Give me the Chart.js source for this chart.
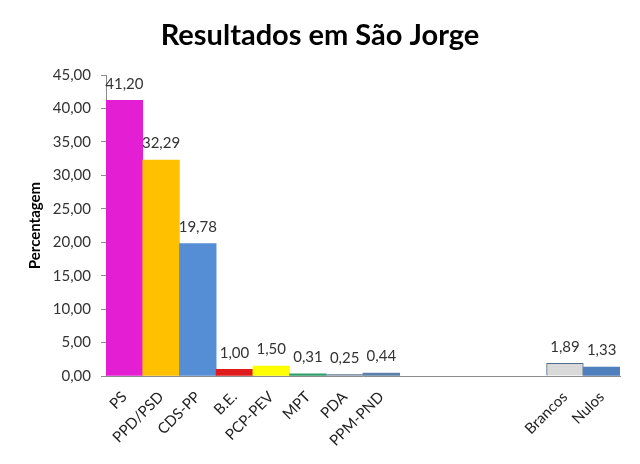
<!DOCTYPE html>
<html>
<head>
<meta charset="utf-8">
<script src="https://cdn.jsdelivr.net/npm/chart.js@4.4.0/dist/chart.umd.min.js"></script>
<style>
  html, body { margin: 0; padding: 0; background: #fff; }
  #wrap { width: 640px; height: 464px; }
</style>
</head>
<body>
<div id="wrap"><canvas id="resultChart"></canvas></div>
<script>
const categories = ['PS', 'PPD/PSD', 'CDS-PP', 'B.E.', 'PCP-PEV', 'MPT', 'PDA', 'PPM-PND', '', '', '', '', 'Brancos', 'Nulos'];
const percentages = [41.20, 32.29, 19.78, 1.00, 1.50, 0.31, 0.25, 0.44, null, null, null, null, 1.89, 1.33];
const yTicks = [0, 5, 10, 15, 20, 25, 30, 35, 40, 45];
const chartTitle = 'Resultados em São Jorge';

const barColors = ['#e41fd3', '#ffc000', '#558ed5', '#e01b1b', '#ffff00', '#2e9e6a', '#8a9bb0', '#5b7fa8', '#fff', '#fff', '#fff', '#fff', '#d9d9d9', '#4f7fbd'];
const fmt = v => v.toFixed(2).replace('.', ',');

// value labels above each bar + title centred on the whole canvas
const valueLabels = {
    id: 'valueLabels',
    afterDatasetsDraw(chart) {
        const ctx = chart.ctx;
        const meta = chart.getDatasetMeta(0);
        ctx.save();
        ctx.font = '15px Lato';
        ctx.fillStyle = '#333';
        ctx.textAlign = 'center';
        ctx.textBaseline = 'bottom';
        meta.data.forEach((bar, i) => {
            const v = percentages[i];
            if (v === null) return;
            ctx.fillText(fmt(v), bar.x, bar.y - 9);
        });
        ctx.font = 'bold 29px Lato';
        ctx.fillStyle = '#000';
        ctx.textBaseline = 'middle';
        ctx.fillText(chartTitle, chart.width / 2, 36);
        ctx.restore();
    }
};

const ctx = document.getElementById('resultChart').getContext('2d');
new Chart(ctx, {
    type: 'bar',
    data: {
        labels: categories,
        datasets: [{
            data: percentages,
            backgroundColor: barColors,
            borderColor: barColors.map((c, i) => categories[i] === 'Brancos' ? '#4f6b8a' : c),
            borderWidth: categories.map(c => c === 'Brancos' ? 1 : 0),
            barPercentage: 1,
            categoryPercentage: 1
        }]
    },
    options: {
        responsive: true,
        maintainAspectRatio: false,
        animation: false,
        layout: { padding: { left: 0, right: 20, top: 75, bottom: 0 } },
        plugins: {
            legend: { display: false },
            tooltip: { enabled: false },
            title: { display: false }
        },
        scales: {
            x: {
                grid: { display: false },
                border: { display: true, color: '#8c8c8c' },
                ticks: {
                    color: '#222',
                    font: { family: 'Lato', size: 15 },
                    minRotation: 45,
                    maxRotation: 45,
                    autoSkip: false,
                    padding: 4
                },
                afterFit(scale) { scale.height = 88; }
            },
            y: {
                min: 0,
                max: 45,
                afterBuildTicks(scale) { scale.ticks = yTicks.map(v => ({ value: v })); },
                grid: { drawOnChartArea: false, drawTicks: true, tickLength: 5, color: '#8c8c8c' },
                border: { display: true, color: '#8c8c8c' },
                ticks: {
                    color: '#333',
                    font: { family: 'Lato', size: 15 },
                    padding: 10,
                    callback: v => fmt(v)
                },
                title: {
                    display: true,
                    text: 'Percentagem',
                    color: '#000',
                    font: { family: 'Lato', size: 15, weight: 'bold' },
                    padding: { top: 26, bottom: 0 }
                },
                afterFit(scale) { scale.width = 106; }
            }
        }
    },
    plugins: [valueLabels]
});
</script>
</body>
</html>
